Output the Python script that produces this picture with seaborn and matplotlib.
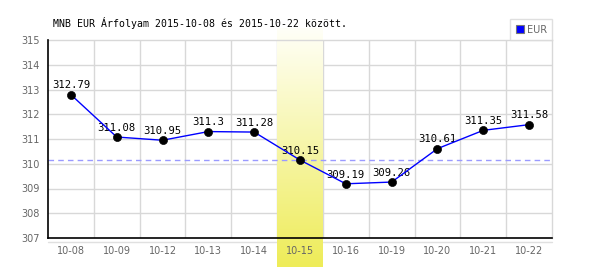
import numpy as np
import matplotlib
matplotlib.use("Agg")
import matplotlib.pyplot as plt
from matplotlib.lines import Line2D
import seaborn as sns

# ---- data ----
dates = ["10-08", "10-09", "10-12", "10-13", "10-14", "10-15",
         "10-16", "10-19", "10-20", "10-21", "10-22"]
values = [312.79, 311.08, 310.95, 311.3, 311.28, 310.15,
          309.19, 309.26, 310.61, 311.35, 311.58]
highlight_date = "10-15"
reference_value = 310.15
y_ticks = [307, 308, 309, 310, 311, 312, 313, 314, 315]
title = "MNB EUR Árfolyam 2015-10-08 és 2015-10-22 között."
series_name = "EUR"

sns.set_theme(style="white")
plt.rcParams["font.family"] = ["DejaVu Sans"]

fig = plt.figure(figsize=(6.0, 2.7), dpi=100)
ax = fig.add_axes([48 / 600, 32 / 270, 504 / 600, 198 / 270])
ax.set_facecolor("white")

n = len(dates)
grid_c = "#d8d8d8"

# manual grid (below the highlight band)
for yv in y_ticks[1:-1]:
    ax.axhline(yv, color=grid_c, lw=1, zorder=0.5)
for i in range(n - 1):
    ax.axvline(i + 0.5, color=grid_c, lw=1, zorder=0.5)

# highlight band with gradient
hi = dates.index(highlight_date)
grad = np.linspace(0, 1, 256).reshape(-1, 1)
top_c = np.array([255, 255, 248]) / 255
bot_c = np.array([238, 236, 88]) / 255
img = top_c[None, None, :] * (1 - grad[:, :, None]) + bot_c[None, None, :] * grad[:, :, None]
ax.imshow(img, extent=(hi - 0.5, hi + 0.5, -0.146, 1.06), aspect="auto",
          transform=ax.get_xaxis_transform(), clip_on=False, zorder=1,
          interpolation="bilinear")

# reference dashed line
ax.axhline(reference_value, color="#9a9aff", lw=1, ls=(0, (4, 3)), zorder=1.5)

# series
sns.lineplot(x=dates, y=values, ax=ax, color="#0000ff", lw=1, zorder=3,
             sort=False)
sns.scatterplot(x=dates, y=values, ax=ax, color="black", s=34,
                edgecolor="black", zorder=4)

for i, v in enumerate(values):
    ax.annotate(str(v), (i, v), xytext=(0, 4.5), textcoords="offset points",
                ha="center", va="baseline", fontsize=7.6,
                family="DejaVu Sans Mono", color="black", zorder=2.8)

ax.set_xlim(-0.5, n - 0.5)
ax.set_ylim(y_ticks[0], y_ticks[-1])
ax.set_yticks(y_ticks)
ax.set_xticks(range(n))
ax.set_xticklabels(dates)
ax.set_xlabel("")
ax.set_ylabel("")
ax.tick_params(axis="both", length=0, colors="#666666", labelsize=7)
ax.tick_params(axis="x", pad=6)
ax.tick_params(axis="y", pad=6)
ax.xaxis.set_zorder(5)
ax.yaxis.set_zorder(5)

for s in ["left", "bottom"]:
    ax.spines[s].set_color("black")
    ax.spines[s].set_linewidth(1.2)
    ax.spines[s].set_zorder(5)
for s in ["top", "right"]:
    ax.spines[s].set_color(grid_c)
    ax.spines[s].set_linewidth(1)

# faint strip line under the x axis
ax.plot([0, 1], [-0.02, -0.02], transform=ax.transAxes, clip_on=False,
        color="#e0e0e0", lw=1, zorder=0.5)

# legend
handle = Line2D([], [], marker="s", ls="none", markersize=5.5,
                markerfacecolor="#0000ff", markeredgecolor="#777777",
                markeredgewidth=0.8)
leg = ax.legend([handle], [series_name], loc="lower right",
                bbox_to_anchor=(1.0, 1.0), borderaxespad=0, frameon=True,
                fancybox=False, fontsize=7, handlelength=0.8,
                handletextpad=0.3, borderpad=0.55, labelcolor="#666666")
leg.get_frame().set_edgecolor(grid_c)
leg.get_frame().set_linewidth(1)

fig.text(53 / 600, 1 - 23 / 270, title, ha="left", va="center",
         fontsize=7.15, family="DejaVu Sans Mono", color="black")

fig.savefig("out.png", dpi=100)
